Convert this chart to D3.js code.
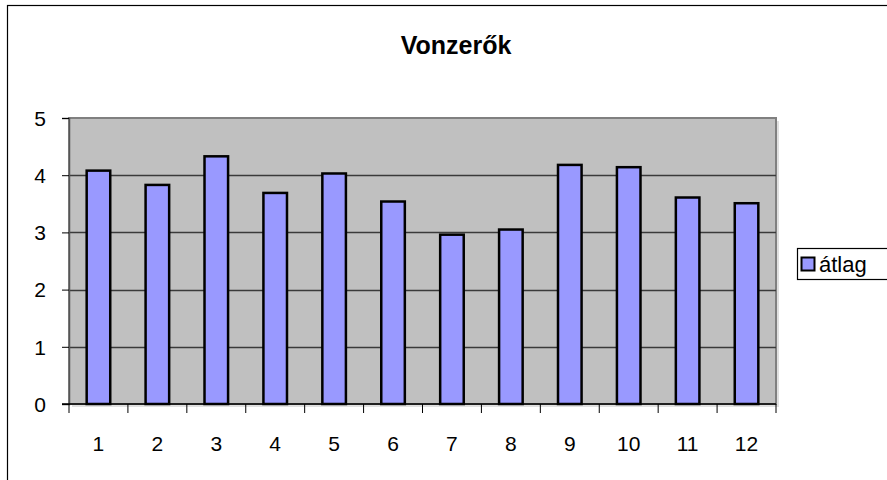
<!DOCTYPE html>
<html>
<head>
<meta charset="utf-8">
<script src="https://cdn.jsdelivr.net/npm/d3@7"></script>
<style>
  body { margin: 0; background: white; }
  text { font-family: "Liberation Sans", Arial, sans-serif; }
</style>
</head>
<body>
<svg id="chart" width="887" height="480"></svg>
<script>
/* DATA */
const categories = ['1', '2', '3', '4', '5', '6', '7', '8', '9', '10', '11', '12']
const atlag = [4.08, 3.83, 4.33, 3.69, 4.03, 3.54, 2.96, 3.05, 4.18, 4.14, 3.61, 3.51]
const yTicks = [0, 1, 2, 3, 4, 5]
const seriesName = 'átlag'
const title = 'Vonzerők'

/* LAYOUT */
const plot = { left: 69, right: 776, top: 118, bottom: 404 }
const barFill = '#9999ff'
const plotFill = '#c0c0c0'
const labelSize = 21

const svg = d3.select('#chart')

// Outer chart border (right and bottom edges fall outside the picture)
svg.append('rect')
  .attr('x', 7.5)
  .attr('y', 5.5)
  .attr('width', 900)
  .attr('height', 500)
  .attr('fill', 'white')
  .attr('stroke', 'black')
  .attr('stroke-width', 1.2)

const x = d3.scaleBand()
  .domain(categories)
  .range([plot.left, plot.right])
  .paddingInner(0.6)
  .paddingOuter(0.3)

const y = d3.scaleLinear()
  .domain([0, 5])
  .range([plot.bottom, plot.top])

// Plot shadow + background
svg.append('rect')
  .attr('x', plot.left + 3)
  .attr('y', plot.top + 3)
  .attr('width', plot.right - plot.left)
  .attr('height', plot.bottom - plot.top)
  .attr('fill', '#e0e0e0')

svg.append('rect')
  .attr('x', plot.left)
  .attr('y', plot.top)
  .attr('width', plot.right - plot.left)
  .attr('height', plot.bottom - plot.top)
  .attr('fill', plotFill)
  .attr('stroke', '#808080')
  .attr('stroke-width', 2)

// Gridlines
svg.append('g')
  .selectAll('line')
  .data(yTicks.filter(d => d > 0 && d < 5))
  .enter().append('line')
  .attr('x1', plot.left)
  .attr('x2', plot.right)
  .attr('y1', d => Math.round(y(d)) + 0.5)
  .attr('y2', d => Math.round(y(d)) + 0.5)
  .attr('stroke', '#3a3a3a')
  .attr('stroke-width', 1.5)

// Bars
svg.append('g')
  .selectAll('rect')
  .data(atlag)
  .enter().append('rect')
  .attr('x', (d, i) => x(categories[i]))
  .attr('y', d => y(d))
  .attr('width', x.bandwidth())
  .attr('height', d => y(0) - y(d))
  .attr('fill', barFill)
  .attr('stroke', 'black')
  .attr('stroke-width', 2.5)

// Y axis
const yAxis = svg.append('g')
  .attr('transform', `translate(${plot.left},0)`)
  .call(d3.axisLeft(y).tickValues(yTicks).tickSize(7).tickPadding(16).tickFormat(d3.format('d')))
yAxis.select('.domain').attr('stroke', '#555').attr('stroke-width', 1.5)
yAxis.selectAll('line').attr('stroke', 'black')
yAxis.selectAll('text')
  .attr('font-size', labelSize)
  .attr('fill', 'black')
  .attr('dy', '0.35em')

// X axis: ticks on category boundaries
const xAxis = svg.append('g')
  .attr('transform', `translate(0,${plot.bottom})`)
xAxis.append('line')
  .attr('x1', plot.left - 7)
  .attr('x2', plot.right)
  .attr('stroke', 'black')
  .attr('stroke-width', 1.5)
const step = x.step()
xAxis.selectAll('.bt')
  .data(d3.range(categories.length + 1))
  .enter().append('line')
  .attr('class', 'bt')
  .attr('x1', d => plot.left + d * step)
  .attr('x2', d => plot.left + d * step)
  .attr('y1', 0)
  .attr('y2', 9)
  .attr('stroke', 'black')
xAxis.selectAll('text')
  .data(categories)
  .enter().append('text')
  .attr('x', d => x(d) + x.bandwidth() / 2)
  .attr('y', 47)
  .attr('text-anchor', 'middle')
  .attr('font-size', labelSize)
  .text(d => d)

// Title
svg.append('text')
  .attr('x', 456)
  .attr('y', 54)
  .attr('text-anchor', 'middle')
  .attr('font-size', 25)
  .attr('font-weight', 'bold')
  .text(title)

// Legend
svg.append('rect')
  .attr('x', 797.5)
  .attr('y', 248.5)
  .attr('width', 100)
  .attr('height', 31)
  .attr('fill', 'white')
  .attr('stroke', 'black')
  .attr('stroke-width', 1.2)
svg.append('rect')
  .attr('x', 801.5)
  .attr('y', 257.5)
  .attr('width', 13)
  .attr('height', 13)
  .attr('fill', barFill)
  .attr('stroke', 'black')
  .attr('stroke-width', 2)
svg.append('text')
  .attr('x', 819)
  .attr('y', 272)
  .attr('font-size', 22)
  .text(seriesName)
</script>
</body>
</html>
